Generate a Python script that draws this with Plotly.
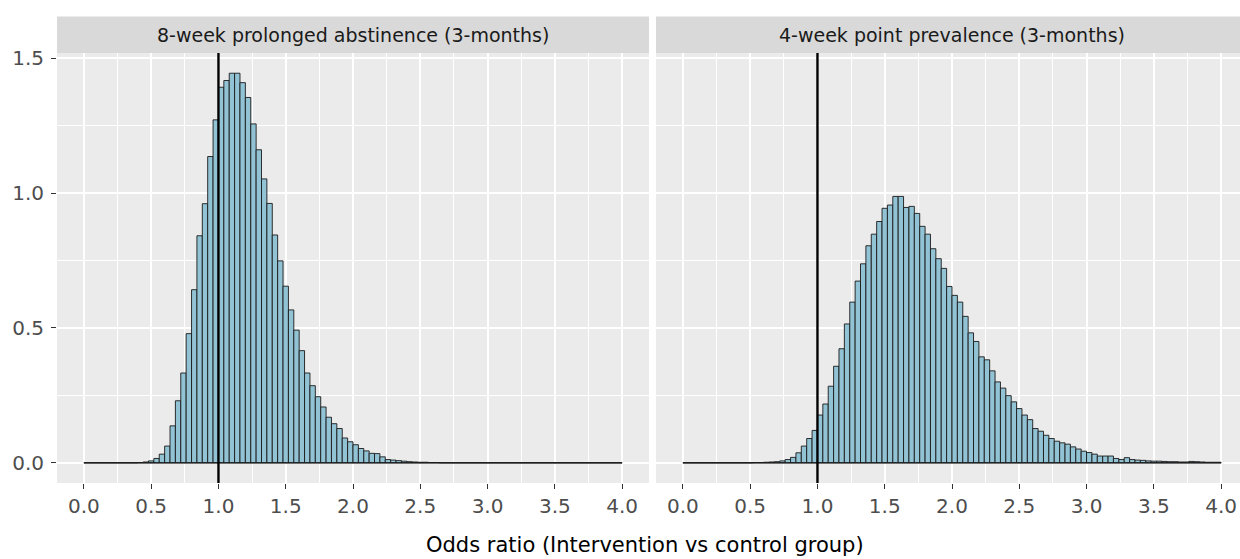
import numpy as np
import plotly.graph_objects as go

# ---------------- data ----------------
BIN_START = 0.0
BIN_WIDTH = 0.04
N_BINS = 100
panel_titles = ["8-week prolonged abstinence (3-months)", "4-week point prevalence (3-months)"]
x_title = "Odds ratio (Intervention vs control group)"
reference_or = 1.0
x_tick_vals = [0.0, 0.5, 1.0, 1.5, 2.0, 2.5, 3.0, 3.5, 4.0]
y_tick_vals = [0.0, 0.5, 1.0, 1.5]

density_abstinence = (
    [0.0] * 10 +
    [0.001, 0.003, 0.007, 0.016, 0.032, 0.062, 0.137, 0.230, 0.333, 0.479,
     0.642, 0.842, 0.961, 1.136, 1.272, 1.393, 1.418, 1.445, 1.445, 1.410,
     1.355, 1.257, 1.161, 1.053, 0.962, 0.845, 0.749, 0.655, 0.567, 0.492,
     0.416, 0.333, 0.286, 0.245, 0.207, 0.169, 0.145, 0.127, 0.092, 0.078,
     0.067, 0.053, 0.044, 0.035, 0.034, 0.022, 0.012, 0.010, 0.008, 0.006,
     0.004, 0.003, 0.002, 0.002, 0.001, 0.001] +
    [0.0] * 34
)

density_prevalence = (
    [0.0] * 13 +
    [0.001, 0.001, 0.002, 0.003, 0.004, 0.007, 0.012, 0.020, 0.037, 0.062,
     0.090, 0.120, 0.177, 0.218, 0.284, 0.358, 0.423, 0.515, 0.596, 0.674,
     0.738, 0.805, 0.848, 0.895, 0.944, 0.956, 0.988, 0.988, 0.947, 0.951,
     0.925, 0.877, 0.848, 0.794, 0.757, 0.721, 0.654, 0.621, 0.596, 0.543,
     0.482, 0.450, 0.393, 0.382, 0.341, 0.300, 0.277, 0.249, 0.226, 0.201,
     0.177, 0.160, 0.127, 0.117, 0.102, 0.090, 0.080, 0.074, 0.069, 0.059,
     0.051, 0.043, 0.038, 0.032, 0.025, 0.025, 0.025, 0.016, 0.012, 0.019,
     0.012, 0.010, 0.009, 0.007, 0.006, 0.006, 0.005, 0.004, 0.004, 0.003,
     0.003, 0.005, 0.004, 0.003, 0.002, 0.002, 0.002]
)

# ---------------- style ----------------
FILL = "#92c3d4"
PANEL_BG = "#EBEBEB"
STRIP_BG = "#D9D9D9"
FONT = "DejaVu Sans"

W, H = 1240, 559
ML, MR, MT, MB = 57, 0, 0, 76
PW, PH = W - ML - MR, H - MT - MB

def px_x(p):
    return (p - ML) / PW

def px_y(p):
    return (H - MB - p) / PH

edges = BIN_START + BIN_WIDTH * np.arange(N_BINS + 1)
centers = (edges[:-1] + edges[1:]) / 2

PANEL_W = 649 - 57
dom_left = [px_x(57), px_x(57 + PANEL_W)]
dom_right = [px_x(656), 1.0]
panel_top = px_y(53)
units_per_px = 4.4 / PANEL_W
right_max = -0.2 + (W - 656) * units_per_px
strip_centers = [px_x(57 + PANEL_W / 2), px_x(656 + PANEL_W / 2)]

fig = go.Figure()
axes = [("x", "y"), ("x2", "y2")]
for (xa, ya), dens in zip(axes, [density_abstinence, density_prevalence]):
    fig.add_trace(go.Bar(
        x=centers, y=dens, width=BIN_WIDTH, xaxis=xa, yaxis=ya,
        marker=dict(color=FILL, line=dict(color="#1a1a1a", width=0.9)),
        showlegend=False, hoverinfo="skip"))
    fig.add_trace(go.Scatter(
        x=[edges[0], edges[-1]], y=[0, 0], mode="lines", xaxis=xa, yaxis=ya,
        line=dict(color="#1a1a1a", width=1.3), showlegend=False, hoverinfo="skip"))
    fig.add_shape(type="line", xref=xa, yref=f"{ya} domain",
                  x0=reference_or, x1=reference_or, y0=0, y1=1,
                  line=dict(color="black", width=2.4))

common_x = dict(
    tickmode="array", tickvals=x_tick_vals,
    ticktext=[f"{v:.1f}" for v in x_tick_vals],
    showgrid=True, gridcolor="white", gridwidth=1.5,
    minor=dict(dtick=0.25, tick0=0, showgrid=True, gridcolor="white", gridwidth=0.8),
    zeroline=False, ticks="outside", ticklen=5, tickcolor="#333333", tickwidth=1,
    tickfont=dict(family=FONT, size=20, color="#4D4D4D"),
    showline=False, automargin=False,
)
common_y = dict(
    range=[-0.075, 1.52],
    tickmode="array", tickvals=y_tick_vals,
    ticktext=[f"{v:.1f}" for v in y_tick_vals],
    showgrid=True, gridcolor="white", gridwidth=1.5,
    minor=dict(dtick=0.25, tick0=0, showgrid=True, gridcolor="white", gridwidth=0.8),
    zeroline=False, showline=False, automargin=False,
    domain=[0, panel_top],
)

fig.update_layout(
    width=W, height=H,
    margin=dict(l=ML, r=MR, t=MT, b=MB, pad=0, autoexpand=False),
    paper_bgcolor="white", plot_bgcolor=PANEL_BG,
    barmode="overlay",
    xaxis=dict(domain=dom_left, range=[-0.2, 4.2], anchor="y", **common_x),
    xaxis2=dict(domain=dom_right, range=[-0.2, right_max], anchor="y2", **common_x),
    yaxis=dict(anchor="x", ticks="outside", ticklen=5, tickcolor="#333333",
               ticklabelstandoff=3,
               tickfont=dict(family=FONT, size=20, color="#4D4D4D"), **common_y),
    yaxis2=dict(anchor="x2", matches="y", showticklabels=False, ticks="", **common_y),
    font=dict(family=FONT),
)

# strips
strip_bottom = panel_top
strip_top = px_y(16.5)
for dom, cx, title in zip([dom_left, dom_right], strip_centers, panel_titles):
    fig.add_shape(type="rect", xref="paper", yref="paper",
                  x0=dom[0], x1=dom[1], y0=strip_bottom, y1=strip_top,
                  fillcolor=STRIP_BG, line=dict(width=0), layer="below")
    fig.add_annotation(text=title, xref="paper", yref="paper",
                       x=cx, y=(strip_bottom + strip_top) / 2, showarrow=False,
                       xanchor="center", yanchor="middle",
                       font=dict(family=FONT, size=19, color="#1A1A1A"))

fig.add_annotation(text=x_title, xref="paper", yref="paper",
                   x=px_x(645), y=px_y(545), showarrow=False,
                   xanchor="center", yanchor="middle",
                   font=dict(family=FONT, size=21, color="black"))

fig.write_html("out.html")
